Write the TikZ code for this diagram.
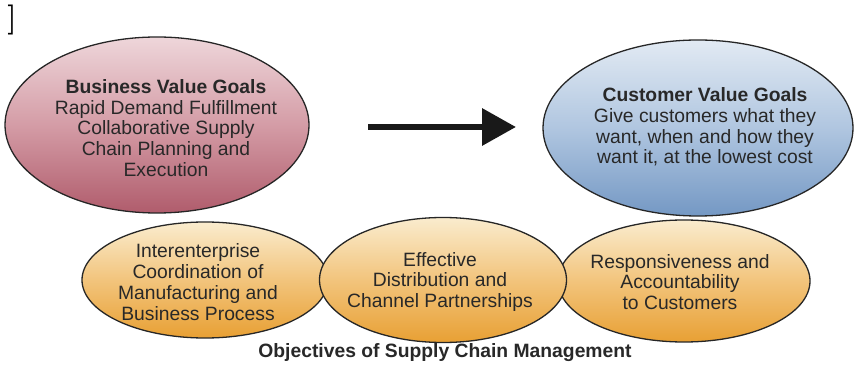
\documentclass[tikz,border=0pt]{standalone}
\usepackage{fontspec}
\setmainfont{Liberation Sans}
\newfontfamily\bracketfont{Latin Modern Roman}
\usetikzlibrary{shapes.geometric,arrows.meta}
\definecolor{redtop}{RGB}{238,214,218}
\definecolor{redmid}{RGB}{212,156,166}
\definecolor{redbot}{RGB}{176,92,108}
\definecolor{bluetop}{RGB}{226,234,243}
\definecolor{bluemid}{RGB}{176,198,224}
\definecolor{bluebot}{RGB}{116,152,196}
\definecolor{orgtop}{RGB}{250,236,206}
\definecolor{orgmid}{RGB}{242,196,124}
\definecolor{orgbot}{RGB}{232,160,52}
\definecolor{txt}{RGB}{40,40,40}
\begin{document}
\begin{tikzpicture}[x=1pt,y=-1pt,
  goal/.style={ellipse,draw=black!85,line width=1.3pt,inner sep=0pt},
  redgoal/.style={goal,top color=redtop,bottom color=redbot,middle color=redmid},
  bluegoal/.style={goal,top color=bluetop,bottom color=bluebot,middle color=bluemid},
  objgoal/.style={goal,top color=orgtop,bottom color=orgbot,middle color=orgmid},
  txtbox/.style={align=center,text=txt,font=\fontsize{19.3}{20.8}\selectfont,inner sep=0pt},
  capbox/.style={text=txt,font=\fontsize{19.3}{21}\selectfont\bfseries,inner sep=0pt}
]
\useasboundingbox (0,0) rectangle (854,371);
\fill[white] (0,0) rectangle (854,371);

\node[font=\fontsize{30}{30}\selectfont\bracketfont\bfseries, inner sep=0pt] (br) at (12,20.5) {]};

\node[redgoal, minimum width=304pt, minimum height=176pt] (bvg) at (157,125) {};
\node[txtbox] (bvgt) at (166,128) {\textbf{Business Value Goals}\\Rapid Demand Fulfillment\\Collaborative Supply\\Chain Planning and\\Execution};

\node[bluegoal, minimum width=310pt, minimum height=176pt] (cvg) at (698,128) {};
\node[txtbox] (cvgt) at (705,127) {\textbf{Customer Value Goals}\\Give customers what they\\want, when and how they\\want it, at the lowest cost};

\coordinate (arrS) at (368,127);
\coordinate (arrE) at (516,127);
\draw[line width=6.5pt, black!90, -{Triangle[length=34pt,width=36pt]}] (arrS) -- (arrE);

\node[objgoal, minimum width=246pt, minimum height=116pt] (o1) at (205,280) {};
\node[objgoal, minimum width=252pt, minimum height=122pt] (o3) at (684,281) {};
\node[objgoal, minimum width=247pt, minimum height=125pt] (o2) at (443,280) {};

\node[txtbox] (o1t) at (198,282) {Interenterprise\\Coordination of\\Manufacturing and\\Business Process};
\node[txtbox] (o2t) at (440,282) {Effective\\Distribution and\\Channel Partnerships};
\node[txtbox] (o3t) at (680,282) {Responsiveness and\\Accountability\\to Customers};

\node[capbox] (cap) at (445,353) {Objectives of Supply Chain Management};
\end{tikzpicture}
\end{document}
